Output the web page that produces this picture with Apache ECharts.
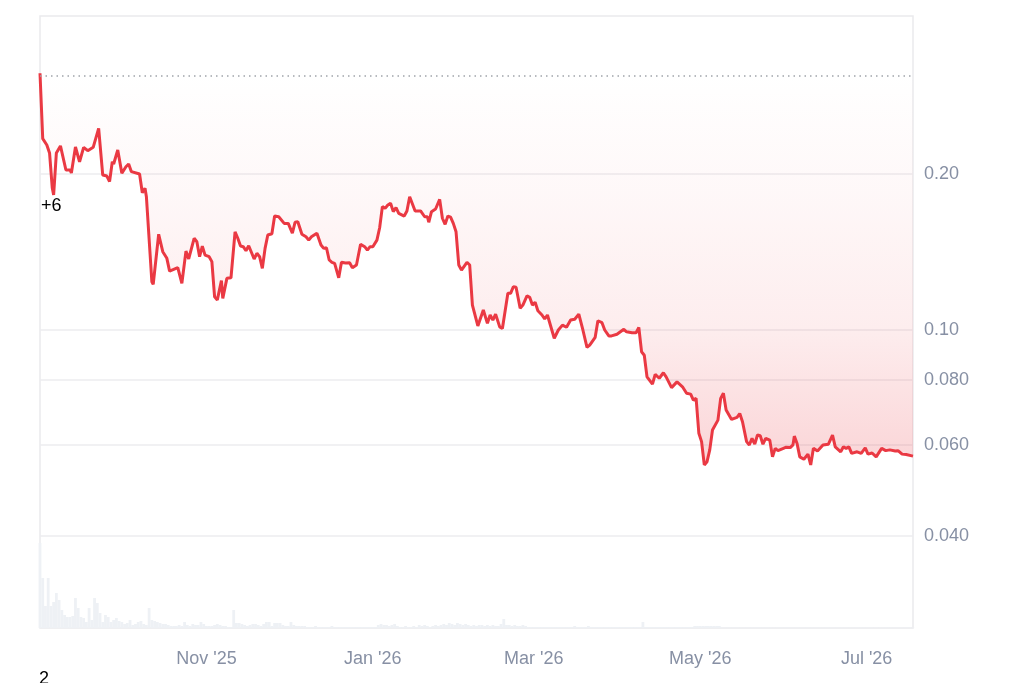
<!DOCTYPE html>
<html><head><meta charset="utf-8">
<script src="https://cdn.jsdelivr.net/npm/echarts@6/dist/echarts.min.js"></script>
<style>html,body{margin:0;padding:0;background:#fff}#c{width:1024px;height:683px}</style>
</head><body><div id="c"></div>
<script>
// ---- data ----
const startDate = '2025-09-01';
const endDate = '2026-07-18';
const startPrice = 0.313;
// days since startDate
const dayOffsets = [0,1,2.5,3.5,4.5,5,6,7.5,9.5,11,11.5,13,14.5,16,17.5,19.5,21.5,23,24.5,25.5,26.5,27,28.5,30,31.5,32.5,33.5,36.5,37.5,38.5,39,41,41.5,43.5,45,46.5,47.5,50.5,52,53.5,54.5,55,56.5,57.5,58.5,59.5,60.5,62,63,64,65,66.5,67,68.5,70,71.5,72.5,73.5,74.5,75.5,76.5,78.5,79.5,80.5,81.5,82.5,83.5,85,86,87.5,89.5,91,92.5,93.5,94.5,96,97.5,98.5,99.5,101.5,103,104,105,106,107,108,109.5,110.5,112,113.5,114.5,116,117.5,119,120,121,122,123.5,124.5,125.5,126.5,127.5,128.5,129.5,130.5,131.5,133.5,134.5,135.5,137.5,139.5,141,142,142.5,143.5,145,146.5,147.5,148.5,149.5,150.5,151.5,152.5,153.5,154.5,156.5,157.5,158.5,160.5,162.5,163,164,165,166,167,167.5,168.5,169.5,171.5,172.5,173.5,174.5,176,177,178.5,179.5,180.5,181.5,182.5,184,185,186,188.5,190,191.5,193,194.5,196,197.5,199,200.5,201.5,203.5,204.5,206,207,208.5,209.5,211.5,214,215,217,218.5,219.5,220.5,221.5,222.5,224.5,225.5,227,228.5,229.5,231.5,233.5,235.5,237,238.5,239.5,240.5,241.5,242.5,243.5,244.5,245.5,246.5,248.5,249.5,250.5,251.5,253.5,255.5,256.5,257.5,259,260,261,262,263,264,265,266,267.5,268.5,269.5,270.5,272.5,273.5,275,276,276.5,277.5,278.5,280,281.5,282.5,283.5,285,287,289,290.5,291.5,293.5,294.5,295.5,296.5,297.5,299.5,301,302.5,303.5,305,306.5,308.5,310,311.5,313.5,314.5,316,317.5,320];
const prices = [0.313,0.234,0.2275,0.2196,0.1879,0.1822,0.2196,0.2266,0.2036,0.2036,0.2009,0.2255,0.2112,0.2252,0.2218,0.2252,0.2450,0.1991,0.1982,0.1933,0.2112,0.2091,0.2225,0.2006,0.2066,0.2091,0.2021,0.2000,0.1840,0.1877,0.1808,0.1239,0.1225,0.1530,0.1416,0.1375,0.1299,0.1319,0.1230,0.1420,0.1371,0.1379,0.1503,0.1480,0.1385,0.1452,0.1395,0.1385,0.1355,0.1159,0.1143,0.1245,0.1151,0.1258,0.1261,0.1547,0.1503,0.1452,0.1448,0.1422,0.1454,0.1371,0.1406,0.1385,0.1315,0.1437,0.1525,0.1534,0.1659,0.1654,0.1606,0.1606,0.1537,0.1614,0.1618,0.1530,0.1513,0.1491,0.1513,0.1537,0.1459,0.1437,0.1441,0.1365,0.1351,0.1345,0.1261,0.1351,0.1347,0.1348,0.1319,0.1335,0.1464,0.1448,0.1426,0.1448,0.1448,0.1491,0.1575,0.1730,0.1717,0.1743,0.1756,0.1692,0.1722,0.1679,0.1659,0.1697,0.1808,0.1697,0.1697,0.1654,0.1654,0.1614,0.1692,0.1712,0.1787,0.1643,0.1599,0.1659,0.1651,0.1606,0.1547,0.1335,0.1305,0.1351,0.1335,0.1117,0.1018,0.1093,0.1084,0.1030,0.1069,0.1045,0.1073,0.1053,0.1014,0.1007,0.1177,0.1177,0.1212,0.1209,0.1101,0.1117,0.1164,0.1156,0.1117,0.1131,0.1089,0.1069,0.1050,0.1069,0.0964,0.1000,0.1022,0.1012,0.1045,0.1049,0.1073,0.1000,0.0926,0.0935,0.0968,0.1042,0.1033,0.1000,0.0974,0.0974,0.0981,0.1003,0.0992,0.0988,0.0988,0.1012,0.0908,0.0894,0.0812,0.0786,0.0821,0.0807,0.0827,0.0812,0.0774,0.0794,0.0777,0.0755,0.0752,0.0732,0.0738,0.0632,0.0609,0.0549,0.0557,0.0587,0.0641,0.0670,0.0738,0.0755,0.0701,0.0672,0.0678,0.0690,0.0665,0.0609,0.0600,0.0618,0.0602,0.0627,0.0625,0.0602,0.0618,0.0613,0.0569,0.0591,0.0585,0.0591,0.0594,0.0593,0.0600,0.0624,0.0604,0.0569,0.0563,0.0576,0.0549,0.0591,0.0584,0.0600,0.0602,0.0627,0.0595,0.0582,0.0595,0.0591,0.0595,0.0578,0.0582,0.0578,0.0592,0.0576,0.0579,0.0569,0.0591,0.0585,0.0587,0.0584,0.0585,0.0576,0.0575,0.0571];
// daily volume (relative units), one per day from startDate
const volumes = [85,50,22,50,22,26,35,28,18,13,11,11,12,30,20,11,10,6,20,8,30,25,15,6,13,11,6,8,10,7,6,4,5,8,3,4,6,7,4,3,20,8,7,6,5,4,4,3,2,2,2,3,2,6,3,2,4,3,3,6,4,2,2,2,3,4,3,2,2,1,1,18,5,5,4,3,2,3,4,4,3,2,4,6,6,2,5,5,5,3,2,2,6,3,2,2,
2,2,1,1,1,2,1,1,1,1,1,2,1,1,1,
1,1,1,1,1,1,1,1,1,1,1,1,1,
3,4,3,3,2,3,4,2,
1,1,2,1,1,2,1,
3,2,3,2,1,2,3,2,
3,4,3,5,4,3,5,4,3,4,3,2,
3,2,3,3,2,3,2,3,2,2,
4,9,3,
3,2,3,2,2,3,2,
1,1,1,1,1,1,1,1,1,1,1,1,
1,1,1,1,1,2,1,1,1,1,2,1,1,1,1,1,1,1,1,1,1,1,1,1,1,1,1,1,1,1,
6,
1,1,1,1,1,1,1,1,1,1,1,1,1,1,1,1,1,1,
2,2,2,2,2,2,2,2,2,2,
0.5,0.5,0.5,0.5,0.5,0.5,0.5,0.5,0.5,0.5,0.5,0.5,0.5,0.5,0.5,0.5,0.5,0.5,0.5,0.5,0.5,0.5,0.5,0.5,0.5,0.5,0.5,0.5,0.5,0.5,0.5,0.5,0.5,0.5,0.5,0.5,0.5,0.5,0.5,0.5,0.5,0.5,0.5,0.5,0.5,0.5,0.5,0.5,0.5,0.5,0.5,0.5,0.5,0.5,0.5,0.5,0.5,0.5,0.5,0.5,0.5,0.5,0.5,0.5,0.5,0.5,0.5,0.5,0.5,0.5,0.5];
const xTickDates = ['2025-11-01','2026-01-01','2026-03-01','2026-05-01','2026-07-01'];
const xTickLabels = ["Nov '25","Jan '26","Mar '26","May '26","Jul '26"];
const yTickValues = [0.04,0.06,0.08,0.1,0.2];
const yTickLabels = ['0.040','0.060','0.080','0.10','0.20'];
const yMin = 0.0266, yMax = 0.4036;

// ---- build ----
const DAY = 86400000;
const ts = s => Date.parse(s + 'T00:00:00Z');
const t0 = ts(startDate), tEnd = ts(endDate);
const xTickTs = xTickDates.map(ts);
const priceData = dayOffsets.map((d, i) => [t0 + d * DAY, prices[i]]);
const volData = volumes.map((v, i) => [t0 + i * DAY, v]);
const FONT = "'Liberation Sans', Arial, sans-serif";
const LABEL = '#8790a4';

const chart = echarts.init(document.getElementById('c'), null, {renderer: 'canvas'});
chart.setOption({
  animation: false,
  backgroundColor: '#ffffff',
  textStyle: {fontFamily: FONT},
  grid: [
    {left: 40, right: 111, top: 16, bottom: 55, show: true, borderColor: '#eaeaed', borderWidth: 1.5, backgroundColor: 'transparent', outerBoundsMode: 'none'},
    {left: 40, right: 111, top: 540, bottom: 55, outerBoundsMode: 'none'}
  ],
  xAxis: [
    {type: 'value', gridIndex: 0, min: t0, max: tEnd, scale: true,
     axisLine: {show: false}, axisTick: {show: false, customValues: xTickTs}, splitLine: {show: false},
     axisLabel: {show: true, customValues: xTickTs, margin: 22, color: LABEL, fontSize: 18, fontFamily: FONT,
       formatter: v => { const i = xTickTs.indexOf(+v); return i >= 0 ? xTickLabels[i] : ''; }}},
    {type: 'value', gridIndex: 1, min: t0, max: tEnd, scale: true, axisLine: {show: false}, axisTick: {show: false},
     axisLabel: {show: false}, splitLine: {show: false}}
  ],
  yAxis: [
    {type: 'log', gridIndex: 0, position: 'right', min: yMin, max: yMax, logBase: 10,
     axisLine: {show: false},
     axisTick: {show: false, customValues: yTickValues},
     splitLine: {show: true, lineStyle: {color: '#ececef', width: 1.5}},
     axisLabel: {customValues: yTickValues, margin: 11, padding: [4, 0, 0, 0], color: LABEL, fontSize: 18, fontFamily: FONT,
       formatter: v => { const i = yTickValues.findIndex(t => Math.abs(t - v) < 1e-9); return i >= 0 ? yTickLabels[i] : ''; }}},
    {type: 'value', gridIndex: 1, min: 0, max: 88, show: false, splitLine: {show: false}}
  ],
  series: [
    {type: 'bar', xAxisIndex: 1, yAxisIndex: 1, data: volData, barWidth: 2.8,
     itemStyle: {color: '#eef1f5'}, silent: true, z: 1},
    {type: 'line', xAxisIndex: 0, yAxisIndex: 0, data: priceData, showSymbol: false, symbol: 'none',
     lineStyle: {color: '#ea3943', width: 3}, z: 3,
     areaStyle: {origin: startPrice, color: new echarts.graphic.LinearGradient(0, 0, 0, 1, [
       {offset: 0, color: 'rgba(234,57,67,0.0)'},
       {offset: 0.3, color: 'rgba(234,57,67,0.05)'},
       {offset: 0.65, color: 'rgba(234,57,67,0.13)'},
       {offset: 0.95, color: 'rgba(234,57,67,0.28)'},
       {offset: 1, color: 'rgba(234,57,67,0.30)'}])},
     markLine: {symbol: 'none', silent: true, label: {show: false},
       lineStyle: {type: [1.5, 4], color: '#a0a4ab', width: 1.5},
       data: [{yAxis: startPrice}]}}
  ],
  graphic: [
    {type: 'text', left: 41, top: 197, style: {text: '+6', fill: '#000', font: "18px 'Liberation Sans', Arial, sans-serif"}, z: 10},
    {type: 'text', left: 39, top: 670, style: {text: '2', fill: '#000', font: "18px 'Liberation Sans', Arial, sans-serif"}, z: 10}
  ]
});
</script></body></html>
